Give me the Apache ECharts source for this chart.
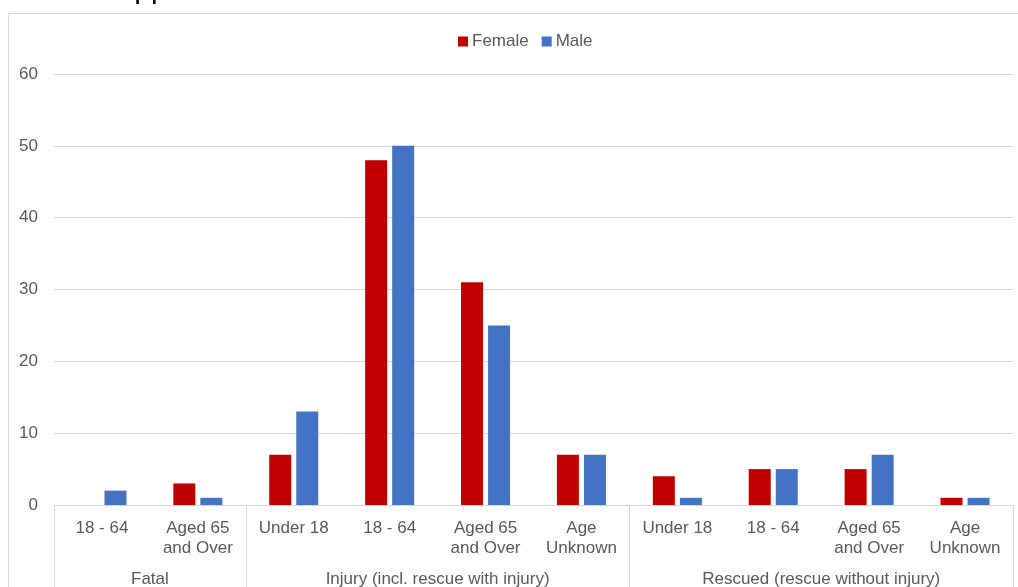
<!DOCTYPE html>
<html>
<head>
<meta charset="utf-8">
<script src="https://cdn.jsdelivr.net/npm/echarts@6/dist/echarts.min.js"></script>
<style>
html,body{margin:0;padding:0;background:#fff;}
#c{width:1018px;height:587px;}
</style>
</head>
<body>
<div id="c"></div>
<script>
var titleText = 'Electric appliances';
var categories = ['18 - 64', 'Aged 65\nand Over', 'Under 18', '18 - 64', 'Aged 65\nand Over', 'Age\nUnknown', 'Under 18', '18 - 64', 'Aged 65\nand Over', 'Age\nUnknown'];
var groups = ['Fatal', 'Injury (incl. rescue with injury)', 'Rescued (rescue without injury)'];
var groupSizes = [2, 4, 4];
var femaleValues = [0, 3, 7, 48, 31, 7, 4, 5, 5, 1];
var maleValues = [2, 1, 13, 50, 25, 7, 1, 5, 7, 1];
var yTicks = [0, 10, 20, 30, 40, 50, 60];

var boundaries = [0];
var centers = [];
groupSizes.forEach(function (s) {
  var start = boundaries[boundaries.length - 1];
  centers.push(start + s / 2);
  boundaries.push(start + s);
});

var FONT = '"Liberation Sans", Arial, sans-serif';
var TXT = '#595959';
var GRID = '#d9d9d9';

var chart = echarts.init(document.getElementById('c'), null, {renderer: 'canvas'});
chart.setOption({
  animation: false,
  backgroundColor: '#fff',
  title: {
    text: titleText,
    left: 6,
    top: -30,
    textStyle: {fontFamily: FONT, fontSize: 30, fontWeight: 'normal', color: '#000'}
  },
  graphic: [{
    type: 'polyline',
    silent: true,
    shape: {points: [[8.5, 600], [8.5, 13.5], [1030, 13.5]]},
    style: {stroke: GRID, lineWidth: 1, fill: null}
  }],
  legend: {
    data: ['Female', 'Male'],
    left: 453,
    top: 28,
    itemWidth: 10,
    itemHeight: 10,
    itemGap: 13,
    icon: 'rect',
    textStyle: {fontFamily: FONT, fontSize: 17, color: TXT, padding: [0, 0, 0, -1]}
  },
  grid: {left: 54, right: 5, top: 74, bottom: 82, containLabel: false, outerBoundsMode: 'none'},
  xAxis: [{
    type: 'category',
    data: categories,
    axisLine: {show: true, lineStyle: {color: GRID, width: 1}},
    axisTick: {show: false},
    axisLabel: {
      interval: 0,
      margin: 13,
      fontFamily: FONT,
      fontSize: 17,
      lineHeight: 20,
      color: TXT,
      align: 'center'
    },
    splitLine: {show: false}
  }, {
    type: 'value',
    min: 0,
    max: boundaries[boundaries.length - 1],
    position: 'bottom',
    axisLine: {show: false},
    splitLine: {show: false},
    axisTick: {
      show: true,
      customValues: boundaries,
      length: 90,
      lineStyle: {color: GRID, width: 1}
    },
    axisLabel: {
      customValues: centers,
      margin: 64,
      fontFamily: FONT,
      fontSize: 17,
      lineHeight: 20,
      color: TXT,
      formatter: function (v) {
        var i = centers.indexOf(v);
        return i >= 0 ? groups[i] : '';
      }
    }
  }],
  yAxis: {
    type: 'value',
    min: yTicks[0],
    max: yTicks[yTicks.length - 1],
    interval: 10,
    axisLine: {show: false},
    axisTick: {show: false},
    axisLabel: {fontFamily: FONT, fontSize: 17, color: TXT, margin: 16},
    splitLine: {lineStyle: {color: GRID, width: 1}}
  },
  series: [{
    name: 'Female',
    type: 'bar',
    xAxisIndex: 0,
    data: femaleValues,
    barWidth: 22,
    barGap: '23%',
    itemStyle: {color: '#C00000'}
  }, {
    name: 'Male',
    type: 'bar',
    xAxisIndex: 0,
    data: maleValues,
    barWidth: 22,
    barGap: '23%',
    itemStyle: {color: '#4472C4'}
  }]
});
</script>
</body>
</html>
